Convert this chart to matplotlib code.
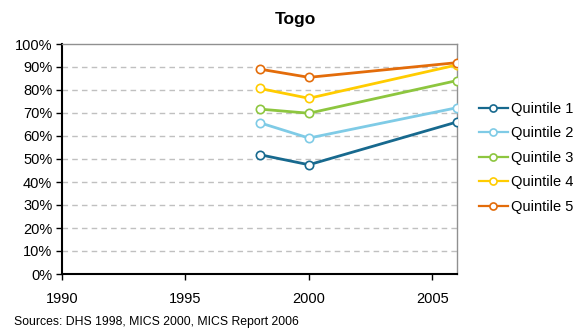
import matplotlib
matplotlib.use("Agg")
import matplotlib.pyplot as plt
from matplotlib.ticker import FuncFormatter, MultipleLocator

plt.rcParams['font.family'] = ['Liberation Sans', 'DejaVu Sans']

years = [1998, 2000, 2006]
series_names = ["Quintile 1", "Quintile 2", "Quintile 3", "Quintile 4", "Quintile 5"]
q1 = [51.9, 47.5, 66.1]
q2 = [65.8, 59.1, 72.3]
q3 = [71.7, 69.9, 84.1]
q4 = [80.7, 76.4, 90.9]
q5 = [89.1, 85.5, 91.9]
colors = ["#17698E", "#7FCBE6", "#8DC63F", "#FFCC00", "#E36C0A"]
x_ticks = [1990, 1995, 2000, 2005]

fig = plt.figure(figsize=(5.84, 3.31), dpi=100)
ax = fig.add_axes([62 / 584, (331 - 274) / 331, 395 / 584, 230 / 331])

for name, vals, c in zip(series_names, [q1, q2, q3, q4, q5], colors):
    ax.plot(years, vals, color=c, lw=2, marker="o", ms=6,
            mfc="white", mec=c, mew=1.2, label=name, zorder=3)

ax.set_xlim(1990, 2006)
ax.set_ylim(0, 100)
ax.set_xticks(x_ticks)
ax.yaxis.set_major_locator(MultipleLocator(10))
ax.yaxis.set_major_formatter(FuncFormatter(lambda v, p: f"{v:.0f}%"))
ax.tick_params(axis="both", labelsize=10.5, direction="out", length=4, width=1, colors="black")
ax.tick_params(axis="x", pad=9)
ax.tick_params(axis="y", pad=3)

for y in range(10, 100, 10):
    ax.axhline(y, color="#C0C0C0", lw=1, ls=(0, (4, 3)), zorder=1)

for s in ["left", "bottom"]:
    ax.spines[s].set_color("black")
    ax.spines[s].set_linewidth(1.5)
for s in ["top", "right"]:
    ax.spines[s].set_color("#909090")
    ax.spines[s].set_linewidth(1)

fig.text(0.505, 0.94, "Togo", ha="center", va="center", fontsize=12.5, fontweight="bold")
fig.text(14 / 584, 1 - 322 / 331, "Sources: DHS 1998, MICS 2000, MICS Report 2006",
         ha="left", va="center", fontsize=8.8)

leg = ax.legend(loc="center left", bbox_to_anchor=(1.04, 0.505), frameon=False, fontsize=10.5,
                handlelength=2.0, handletextpad=0.25, labelspacing=0.72, borderaxespad=0,
                markerscale=0.85)
for h in leg.get_lines():
    h.set_linewidth(1.6)

fig.savefig("out.png", dpi=100)
